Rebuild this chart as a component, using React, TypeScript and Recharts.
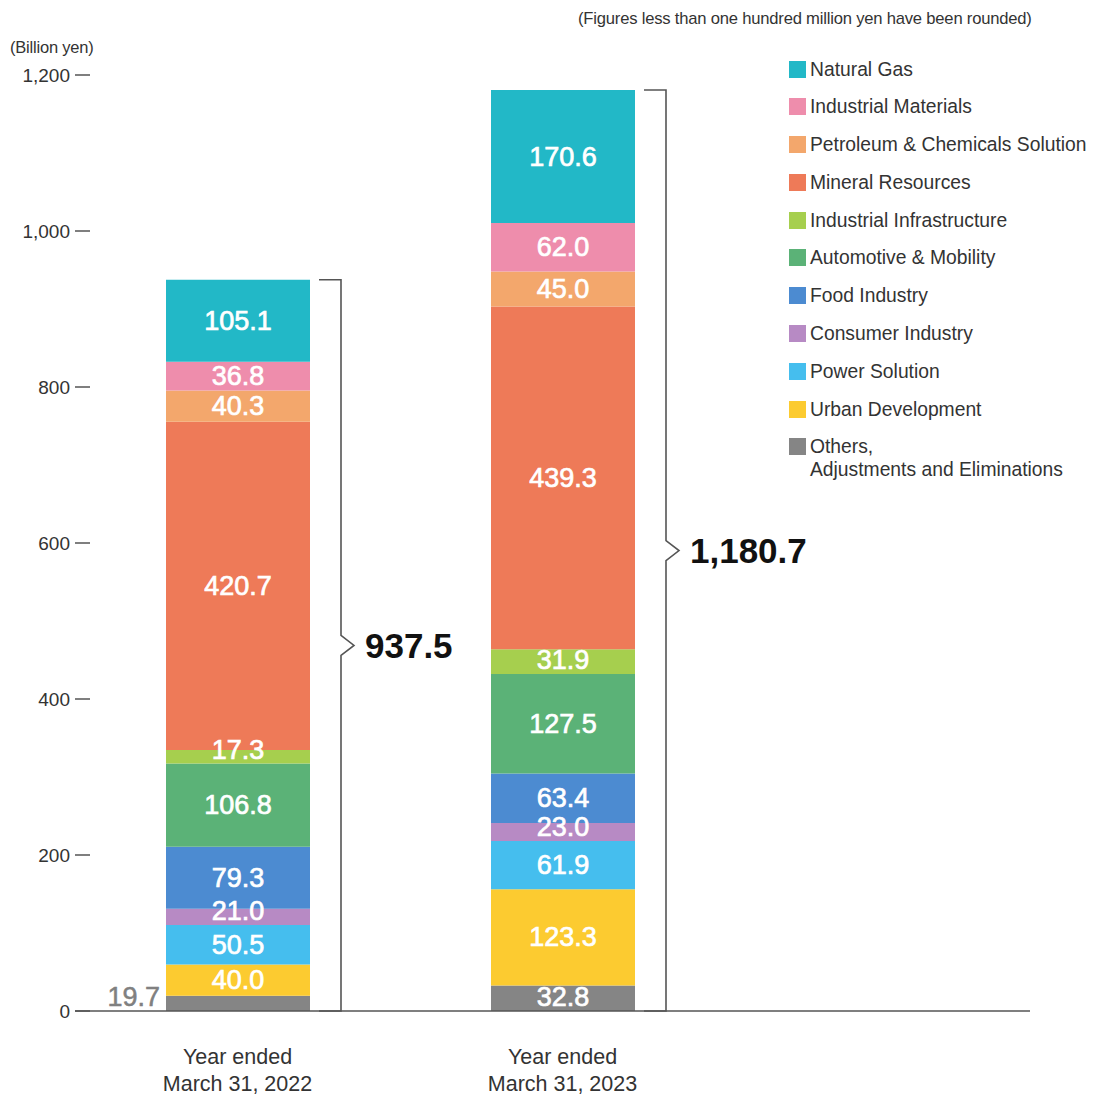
import React from "react";
import { BarChart, Bar, XAxis, YAxis, LabelList } from "recharts";

const categories = ["Year ended|March 31, 2022", "Year ended|March 31, 2023"];
const othersValues = [19.7, 32.8];
const urbanValues = [40.0, 123.3];
const powerValues = [50.5, 61.9];
const consumerValues = [21.0, 23.0];
const foodValues = [79.3, 63.4];
const automotiveValues = [106.8, 127.5];
const infraValues = [17.3, 31.9];
const mineralValues = [420.7, 439.3];
const petroleumValues = [40.3, 45.0];
const materialsValues = [36.8, 62.0];
const gasValues = [105.1, 170.6];
const totals = [937.5, 1180.7];
const yTicks = [0, 200, 400, 600, 800, 1000, 1200];

// bottom-to-top stacking order
const series = [
  { key: "others", name: "Others,|Adjustments and Eliminations", color: "#858585", values: othersValues },
  { key: "urban", name: "Urban Development", color: "#FCCB30", values: urbanValues },
  { key: "power", name: "Power Solution", color: "#45BEEE", values: powerValues },
  { key: "consumer", name: "Consumer Industry", color: "#B78AC4", values: consumerValues },
  { key: "food", name: "Food Industry", color: "#4C8BD1", values: foodValues },
  { key: "automotive", name: "Automotive & Mobility", color: "#5BB277", values: automotiveValues },
  { key: "infra", name: "Industrial Infrastructure", color: "#A6CF4E", values: infraValues },
  { key: "mineral", name: "Mineral Resources", color: "#EE7A58", values: mineralValues },
  { key: "petroleum", name: "Petroleum & Chemicals Solution", color: "#F3A76C", values: petroleumValues },
  { key: "materials", name: "Industrial Materials", color: "#EE8DAC", values: materialsValues },
  { key: "gas", name: "Natural Gas", color: "#22B8C7", values: gasValues },
];

const data = categories.map((c, i) => {
  const row: any = { category: c, total: totals[i] };
  series.forEach((s) => (row[s.key] = s.values[i]));
  return row;
});

const FONT = "'Liberation Sans', Arial, Helvetica, sans-serif";
const fmt1 = (v: number) =>
  v.toLocaleString("en-US", { minimumFractionDigits: 1, maximumFractionDigits: 1 });

function YTick(props: any) {
  const { x, y, payload } = props;
  return (
    <g>
      <text x={x - 5} y={y} textAnchor="end" dominantBaseline="central" fontSize={19} fill="#333" fontFamily={FONT}>
        {payload.value.toLocaleString("en-US")}
      </text>
      <line x1={x} x2={x + 15} y1={y} y2={y} stroke="#555" strokeWidth={1.5} />
    </g>
  );
}

function XTick(props: any) {
  const { x, y, payload } = props;
  const lines = String(payload.value).split("|");
  return (
    <g>
      {lines.map((l, i) => (
        <text key={i} x={x} y={y + 46 + i * 27} textAnchor="middle" dominantBaseline="central" fontSize={21.5} fill="#333" fontFamily={FONT}>
          {l}
        </text>
      ))}
    </g>
  );
}

function makeLabel(key: string) {
  return (props: any) => {
    const { x, y, width, height, value } = props;
    if (value == null) return null;
    const outside = key === "others" && value < 25;
    if (outside) {
      return (
        <text x={x - 6} y={y + height - 5} textAnchor="end" fontSize={27} fill="#808080" stroke="#808080" strokeWidth={0.5} fontFamily={FONT}>
          {fmt1(value)}
        </text>
      );
    }
    const cy = Math.min(y + height / 2, y + height - 14);
    return (
      <text x={x + width / 2} y={cy} textAnchor="middle" dominantBaseline="central" fontSize={27} fill="#fff" stroke="#fff" strokeWidth={0.7} fontFamily={FONT}>
        {fmt1(value)}
      </text>
    );
  };
}

function BracketShape(props: any) {
  const { x, y, width, height, payload } = props;
  const right = x + width;
  const bx = right + 31;
  const top = y;
  const bottom = y + height;
  const mid = (top + bottom) / 2;
  const d = `M ${right + 9} ${top} H ${bx} V ${mid - 10} L ${bx + 13} ${mid} L ${bx} ${mid + 10} V ${bottom} H ${right + 9}`;
  return (
    <g>
      <path d={d} fill="none" stroke="#555" strokeWidth={1.6} />
      <text x={bx + 24} y={mid} dominantBaseline="central" fontSize={35} fontWeight="bold" fill="#111" fontFamily={FONT}>
        {fmt1(payload.total)}
      </text>
    </g>
  );
}

export default function App() {
  const legendItems = [...series].reverse();
  return (
    <div style={{ position: "relative", width: 1091, height: 1087, fontFamily: FONT }}>
      <BarChart width={1091} height={1087} data={data} margin={{ top: 67, right: 69, bottom: 0, left: 0 }}>
        <YAxis
          width={67}
          domain={[0, 1200]}
          ticks={yTicks}
          interval={0}
          axisLine={false}
          tickLine={false}
          tickSize={0}
          tickMargin={0}
          tick={<YTick />}
        />
        <XAxis
          dataKey="category"
          padding={{ left: 0, right: 305 }}
          axisLine={{ stroke: "#555", strokeWidth: 1.5 }}
          tickLine={false}
          tickSize={0}
          tickMargin={0}
          height={84}
          tick={<XTick />}
          interval={0}
        />
        <XAxis xAxisId="br" dataKey="category" padding={{ left: 0, right: 305 }} hide />
        {series.map((s) => (
          <Bar key={s.key} dataKey={s.key} stackId="a" fill={s.color} barSize={144} isAnimationActive={false}>
            <LabelList dataKey={s.key} content={makeLabel(s.key)} />
          </Bar>
        ))}
        <Bar xAxisId="br" dataKey="total" barSize={144} fill="none" shape={<BracketShape />} isAnimationActive={false} />
      </BarChart>

      <div style={{ position: "absolute", left: 2, top: 30, fontSize: 16.5, lineHeight: "18px", color: "#333", letterSpacing: "-0.2px" }}>(Billion yen)</div>
      <div style={{ position: "absolute", left: 570, top: 2, fontSize: 16.6, lineHeight: "18px", color: "#333", letterSpacing: "-0.2px" }}>
        (Figures less than one hundred million yen have been rounded)
      </div>

      <div style={{ position: "absolute", left: 781, top: 49.5 }}>
        {legendItems.map((s) => {
          const lines = s.name.split("|");
          return (
            <div key={s.key} style={{ display: "flex", alignItems: "flex-start", height: lines.length > 1 ? "auto" : 37.8 }}>
              <div style={{ width: 17, height: 17, background: s.color, marginTop: 3, marginRight: 4, flexShrink: 0 }} />
              <div style={{ fontSize: 19.3, lineHeight: "23px", color: "#333", whiteSpace: "nowrap" }}>
                {lines.map((l, i) => (
                  <div key={i}>{l}</div>
                ))}
              </div>
            </div>
          );
        })}
      </div>
    </div>
  );
}
